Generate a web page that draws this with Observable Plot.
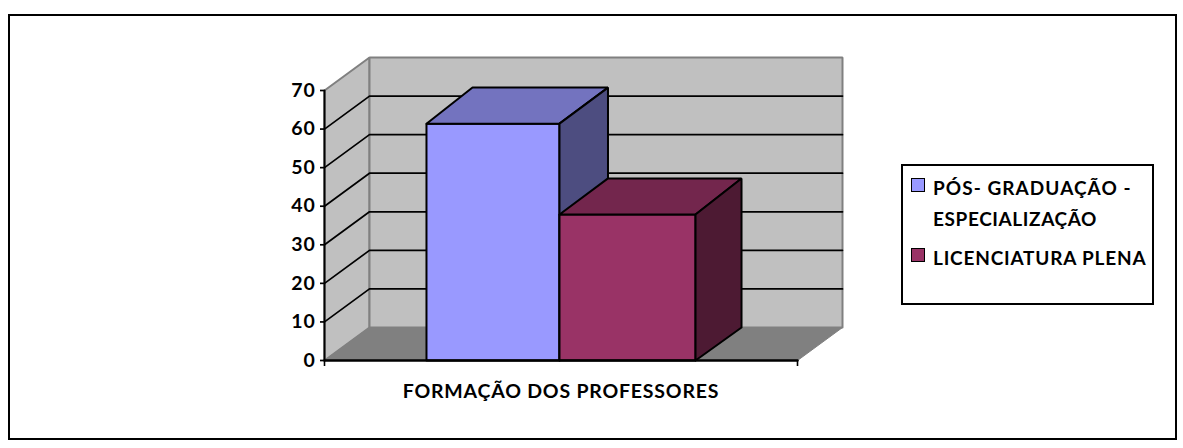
<!DOCTYPE html>
<html><head><meta charset="utf-8">
<script src="https://cdn.jsdelivr.net/npm/d3@7"></script>
<script src="https://cdn.jsdelivr.net/npm/@observablehq/plot@0.6"></script>
<style>
html,body{margin:0;padding:0;background:#fff;overflow:hidden}
#page{position:relative;width:1183px;height:448px;font-family:Lato,sans-serif;font-weight:700;color:#000}
#frame{position:absolute;left:8px;top:14px;width:1165px;height:422px;border:2px solid #000}
#chart{position:absolute;left:0;top:0}
#chart svg{display:block;background:transparent}
#legend{position:absolute;left:901px;top:164px;width:249px;height:137px;border:2px solid #000;background:#fff}
#legend .sw{position:absolute;width:12px;height:12px;border:1.5px solid #000;left:8px}
#legend .t{position:absolute;left:30px;font-size:19px;line-height:31px;white-space:nowrap}
</style></head><body>
<div id="page"><div id="frame"></div><div id="chart"></div>
<div id="legend"></div></div>
<script>
const seriesNames = [["PÓS- GRADUAÇÃO -", "ESPECIALIZAÇÃO"], ["LICENCIATURA PLENA"]];
const seriesValues = [61.4, 37.85];
const categoryLabel = "FORMAÇÃO DOS PROFESSORES";
const yTicks = [0, 10, 20, 30, 40, 50, 60, 70];
const barEdges = [0.2156, 0.4968, 0.7844];
const barBackEdges = [0.2178, 0.5042, 0.7865];
const faceColors = [["#9999FF", "#7373BF", "#4D4D80"], ["#993366", "#73264D", "#4D1A33"]];
const wallFill = "#C0C0C0", floorFill = "#808080", wallStroke = "#808080";
const backRise = 0.8;

const W = 1183, H = 448;
const mL = 324, mR = W - 842, mT = 57, mB = H - 360;
const depthX = 45 / 473, depthY = 33 / (270 / 70);
const P = (x, y, z = 0) => ({x: x + z * depthX, y: y + z * depthY});

function poly(fill, stroke, pts, strokeWidth = 2) {
  const closed = [...pts, pts[0], pts[1]];
  return Plot.line(closed, {x: "x", y: "y", fill, stroke, strokeWidth, strokeLinejoin: "miter", curve: "linear"});
}
const yMax = 70;
const marks = [
  poly(wallFill, wallStroke, [P(0,0), P(0,0,1), P(0,yMax,1), P(0,yMax)], 2),
  poly(wallFill, wallStroke, [P(0,0,1), P(1,0,1), P(1,yMax,1), P(0,yMax,1)], 2),
  poly(floorFill, wallStroke, [P(0,0), P(1,0), P(1,0,1), P(0,0,1)], 1)
];
for (const t of yTicks.filter(d => d > 0 && d < yMax)) {
  marks.push(Plot.line([P(0,t), P(0,t,1), P(1,t,1)], {x:"x", y:"y", stroke:"#000", strokeWidth:1.7}));
}
seriesValues.forEach((v, i) => {
  const a = barEdges[i], b = barEdges[i+1], ba = barBackEdges[i], bb = barBackEdges[i+1];
  const vb = v + backRise, [f, tp, sd] = faceColors[i];
  marks.push(poly(f, "#000", [P(a,0), P(b,0), P(b,v), P(a,v)]));
  marks.push(poly(tp, "#000", [P(a,v), P(b,v), P(bb,vb,1), P(ba,vb,1)]));
  marks.push(poly(sd, "#000", [P(b,0), P(bb,0,1), P(bb,vb,1), P(b,v)]));
});
marks.push(Plot.line([P(0,0), P(0,yMax)], {x:"x", y:"y", stroke:"#000", strokeWidth:2}));
marks.push(Plot.line([P(0,0), P(1,0)], {x:"x", y:"y", stroke:"#000", strokeWidth:2.4}));
marks.push(Plot.axisY({ticks: yTicks, tickSize: 4, tickPadding: 5, tickFormat: d => d, label: null, fontSize: 19.5, stroke: "#000", strokeWidth: 1.7}));
marks.push(Plot.axisX({ticks: [0, 1], tickSize: 6, tickFormat: () => "", label: null, stroke: "#000", strokeWidth: 1.6}));
marks.push(Plot.text([categoryLabel], {x: [0.5], y: [0], text: d => d, dy: 31, fontSize: 19.5, fontWeight: 700, fill: "#000"}));

const svg = Plot.plot({
  width: W, height: H, marginLeft: mL, marginRight: mR, marginTop: mT, marginBottom: mB,
  style: {fontFamily: "Lato, sans-serif", fontWeight: 700, fontSize: "19.5px", letterSpacing: "0.8px", background: "transparent", color: "#000", overflow: "visible"},
  x: {domain: [0, 1 + depthX]},
  y: {domain: [0, yMax + depthY]},
  marks
});
document.getElementById("chart").appendChild(svg);

const lg = document.getElementById("legend");
const swTops = [12, 82];
const textTops = [5.5, 75.5];
const lineSpacing = [["1.05px", "0.6px"], ["0.8px"]];
seriesNames.forEach((lines, i) => {
  const s = document.createElement("div");
  s.className = "sw"; s.style.top = swTops[i] + "px"; s.style.background = faceColors[i][0];
  lg.appendChild(s);
  const t = document.createElement("div");
  t.className = "t"; t.style.top = textTops[i] + "px";
  lines.forEach((line, j) => {
    const row = document.createElement("div");
    row.textContent = line;
    row.style.letterSpacing = lineSpacing[i][j];
    t.appendChild(row);
  });
  lg.appendChild(t);
});
</script>
</body></html>
